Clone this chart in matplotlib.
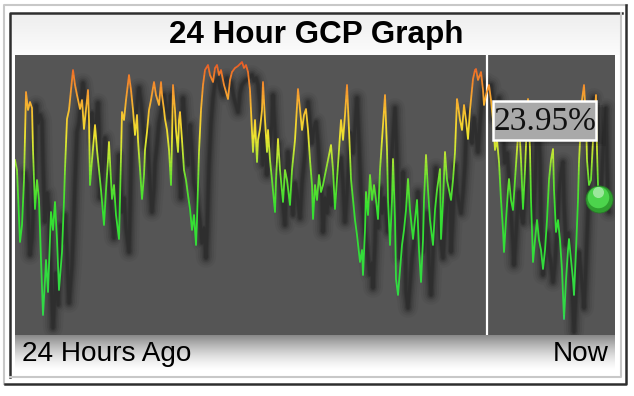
import numpy as np
import matplotlib.pyplot as plt
import matplotlib.transforms as mtransforms
from matplotlib.colors import LinearSegmentedColormap
from matplotlib.patches import Rectangle

# GCP readings over the last 24 hours (one sample ~2.5 min), level 0-280
sample = [0, 2, 5, 7, 9, 11, 13, 15, 17, 18, 20, 22, 24, 26, 28, 30, 31, 33, 35, 36,
          38, 40, 42, 44, 46, 47, 49, 50, 52, 54, 56, 58, 60, 62, 65, 67, 69, 71, 73, 74,
          75, 77, 80, 82, 84, 86, 89, 91, 93, 94, 96, 97, 99, 101, 104, 105, 107, 109, 111, 114,
          116, 118, 120, 122, 123, 125, 127, 129, 130, 132, 134, 136, 139, 141, 144, 146,
          147, 149, 150, 152, 154, 156, 157, 158, 160, 161, 163, 164, 165, 167, 169, 171, 173, 175,
          177, 179, 181, 182, 184, 186, 188, 190, 193, 195, 198, 200, 202, 204, 206, 209, 211, 213,
          215, 217, 220, 223, 227, 229, 231, 233, 235, 237, 238, 240, 242, 243, 245, 247, 248, 250,
          252, 253, 255, 257, 260, 261, 263, 265, 268, 270, 272, 275, 277, 280, 283, 285, 287, 289,
          291, 293, 295, 297,
          298, 300, 302, 304, 306, 308, 311, 313, 316, 318, 320, 322, 324, 326, 328, 330, 332, 334,
          336, 338, 340, 342, 345, 347, 348, 350, 351, 353, 355, 357, 359, 361, 363, 365, 367, 370,
          372, 373, 375, 377, 378, 380, 381, 383, 385, 387, 389, 391, 393, 395, 398, 400, 402, 404,
          406, 408, 409, 411, 413, 415, 418, 420, 422, 425, 426, 428, 430, 432, 434, 436, 438, 440, 442,
          443, 445, 447, 449, 451, 453, 455, 458, 460, 461, 463, 466, 468, 469, 471, 474, 476, 478,
          480, 482, 484, 486, 488, 489, 491, 493, 494, 496, 498, 500, 502, 504, 506, 508, 510, 512,
          513, 515, 516, 518, 520, 522, 524, 526, 528, 530, 532, 534, 536, 538, 539, 541, 543, 545,
          547, 549, 551, 553, 554, 556, 558, 559, 561, 563, 564, 566, 567, 569, 571, 572, 574, 576,
          578, 580, 581, 582, 583, 584]
level = [175, 165, 93, 110, 155, 243, 225, 233, 227, 185, 126, 155, 135, 75, 20, 55, 75, 43, 95, 123,
         105, 133, 95, 45, 70, 83, 135, 166, 216, 225, 245, 265, 250, 240, 226, 235, 206, 225, 245, 215,
         150, 175, 210, 185, 165, 145, 110, 145, 175, 193, 155, 136, 150, 120, 96, 135, 223, 215, 235, 260,
         245, 225, 200, 220, 195, 165, 136, 160, 185, 203, 225, 235, 253, 240, 230, 253,
         240, 225, 216, 205, 185, 150, 195, 250, 225, 205, 183, 215, 223, 195, 165, 155, 140, 126,
         105, 120, 90, 115, 183, 225, 250, 265, 270, 260, 253, 267, 270, 260, 265, 250, 243, 236,
         255, 263, 267, 269, 273, 267, 270, 263, 245, 205, 183, 215, 173, 195, 206, 225, 253, 215,
         183, 205, 175, 155, 123, 155, 196, 165, 133, 165, 155, 130, 165, 195, 246, 225, 205, 220,
         226, 205, 175, 150,
         116, 150, 135, 160, 143, 150, 165, 175, 190, 165, 126, 155, 185, 215, 195, 220, 250, 205,
         156, 135, 115, 100, 73, 85, 60, 105, 143, 120, 160, 135, 150, 135, 116, 165, 195, 240,
         185, 135, 90, 135, 176, 115, 56, 40, 65, 90, 105, 125, 156, 125, 96, 115, 135, 85,
         53, 95, 135, 180, 145, 115, 90, 125, 145, 166, 96, 135, 183, 155, 145, 135, 155, 183, 236,
         230, 215, 205, 230, 215, 196, 225, 256, 265, 266, 255, 263, 245, 230, 240, 250, 235, 215,
         185, 195, 173, 135, 105, 83, 115, 145, 156, 135, 125, 155, 185, 213, 175, 126, 165, 215,
         236, 185, 135, 73, 95, 115, 95, 85, 66, 85, 115, 155, 175, 186, 145, 103, 115, 95,
         65, 16, 55, 85, 96, 75, 55, 40, 85, 135, 173, 215, 235, 250, 215, 175, 150, 155,
         195, 225, 240, 185, 150, 136]
marker_sample = 472
current_label = '23.95%'

W, H = 634, 396
fig = plt.figure(figsize=(W / 100, H / 100), dpi=100)

# background layer in pixel coordinates (y downwards)
bg = fig.add_axes([0, 0, 1, 1])
bg.set_xlim(0, W)
bg.set_ylim(H, 0)
bg.axis('off')

# title strip gradient
grad = np.linspace(0, 1, 60).reshape(-1, 1)
bg.imshow(grad, extent=(11, 622, 55, 14), cmap=LinearSegmentedColormap.from_list(
    't', ['#eeeeee', '#fcfcfc']), aspect='auto', zorder=1)
# shadow under the plot area
fade = np.zeros((40, 1, 4))
fade[:, 0, 3] = np.linspace(0.6, 0, 40) ** 1.5
bg.imshow(fade, extent=(15, 615, 372, 335), aspect='auto', zorder=1)

# groove frame
light, dark = '#c8c8c8', '#2e2e2e'
bg.plot([4, 4, 627], [384, 5, 5], color=light, lw=1.5, zorder=2)
bg.plot([5, 626, 626], [384, 384, 5], color=dark, lw=1.8, zorder=2)
bg.plot([10, 10, 622], [377, 13, 13], color=dark, lw=1.8, zorder=2)
bg.plot([10, 621, 621], [377, 377, 13], color=light, lw=1.5, zorder=2)

bg.text(316, 43, '24 Hour GCP Graph', ha='center', va='baseline', fontsize=22.6,
        fontweight='bold', family='Liberation Sans', color='black', zorder=3)
bg.text(22, 361, '24 Hours Ago', ha='left', va='baseline', fontsize=20.2,
        family='Liberation Sans', color='black', zorder=3)
bg.text(609, 361, 'Now', ha='right', va='baseline', fontsize=20.2,
        family='Liberation Sans', color='black', zorder=3)

# plot area
ax = fig.add_axes([15 / W, (H - 335) / H, 600 / W, 280 / H])
ax.set_xlim(0, 600)
ax.set_ylim(0, 280)
ax.set_facecolor('#555555')
ax.set_xticks([])
ax.set_yticks([])
for s in ax.spines.values():
    s.set_visible(False)

# soft drop shadow of the trace
off = mtransforms.offset_copy(ax.transData, fig=fig, x=10, y=-13, units='dots')
for lw, a in [(20, 0.04), (15, 0.06), (11, 0.08), (8, 0.1), (5, 0.12), (3, 0.14)]:
    ax.plot(sample, level, color='black', lw=lw * 0.72, alpha=a, transform=off,
            solid_joinstyle='round', solid_capstyle='round')

ax.axvline(marker_sample, color='white', lw=1.6, zorder=3)

# trace coloured by height
cmap = LinearSegmentedColormap.from_list('gcp', [
    (0.0, '#40b8d8'), (0.07, '#30d848'), (0.45, '#36e030'), (0.56, '#68e030'),
    (0.64, '#b4e434'), (0.71, '#ece430'), (0.78, '#f5c830'), (0.86, '#f5a030'),
    (0.93, '#f07a28'), (1.0, '#e04a28')])
edges = np.arange(0, 284, 4)
for lo, hi in zip(edges[:-1], edges[1:]):
    ln, = ax.plot(sample, level, color=cmap((lo + hi) / 2 / 280), lw=1.3, zorder=4)
    ln.set_clip_path(Rectangle((0, lo - 0.3), 600, hi - lo + 0.6, transform=ax.transData))

# current value ball
ax.plot(sample[-1], level[-1], 'o', ms=19.5, mfc='#2f9f2f', mec='#287a28', mew=0.6, zorder=6)
up = mtransforms.offset_copy(ax.transData, fig=fig, x=-1, y=2, units='dots')
ax.plot(sample[-1], level[-1], 'o', ms=15.5, mfc='#4cd44c', mec='none', zorder=6, transform=up)
hi_t = mtransforms.offset_copy(ax.transData, fig=fig, x=-1, y=7, units='dots')
ax.plot(sample[-1], level[-1], 'o', ms=8, mfc='white', alpha=0.45, mec='none', zorder=7,
        transform=hi_t)

# value label box
for d, a in [(10, 0.08), (7, 0.1), (4, 0.12)]:
    ax.add_patch(Rectangle((493 + d, 101 + d * 0.6), 103, 39, transform=bg.transData,
                           fc='black', ec='none', alpha=a, zorder=7))
ax.add_patch(Rectangle((493, 101), 103, 39, transform=bg.transData, fc='#a9a9a9',
                       ec='white', lw=1.8, zorder=8))
ax.text(544.5, 122, current_label, transform=bg.transData, ha='center', va='center',
        fontsize=24, family='Liberation Serif', color='#111111', zorder=9)

fig.savefig('out.png', dpi=100)
